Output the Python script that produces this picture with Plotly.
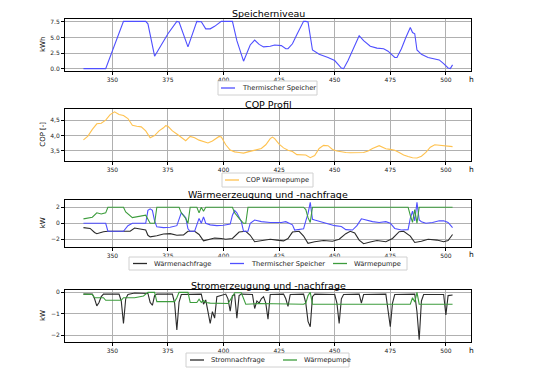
import plotly.graph_objects as go

# ---------------- data ----------------
speicher_h = [337, 347, 355, 365, 366, 369, 372, 375, 379, 380, 384, 388, 390, 392, 394, 396, 399, 404, 406, 409,
              412, 414, 416, 418, 421, 423, 426, 428, 429, 431, 433, 435, 436, 437, 438, 440, 443, 447, 450, 453,
              454, 456, 458, 461, 463, 466, 469, 472, 474, 476, 477, 478, 480, 482, 484, 485, 486, 487, 489, 492,
              495, 497, 499, 501, 502, 503]
speicher_kwh = [0.0, 0.0, 7.6, 7.6, 7.2, 2.0, 3.8, 5.6, 7.6, 7.5, 3.5, 7.6, 7.55, 6.4, 6.4, 6.8, 7.6, 7.6, 4.5, 1.2,
                3.8, 4.6, 3.9, 3.5, 3.6, 3.8, 3.7, 3.2, 3.2, 4.0, 5.5, 6.9, 7.6, 7.6, 7.5, 3.0, 2.3, 1.8, 1.3, 0.1,
                0.0, 1.3, 2.8, 5.3, 4.5, 3.6, 3.3, 3.2, 2.8, 2.1, 1.8, 1.8, 3.2, 5.0, 6.6, 5.8, 5.6, 3.0, 2.3, 1.8,
                1.6, 1.4, 0.8, 0.1, 0.0, 0.6]

cop_h = [337, 339, 341, 343, 345, 347, 349, 351, 353, 355, 357, 358, 359, 361, 363, 365, 367, 369, 371, 373,
         374, 375, 377, 379, 381, 383, 385, 387, 389, 391, 393, 395, 397, 398, 399, 401, 403, 405, 407, 409,
         411, 413, 415, 417, 419, 421, 422, 423, 425, 427, 429, 431, 433, 435, 437, 439, 441, 443, 445, 447,
         449, 451, 453, 455, 457, 460, 463, 465, 467, 470, 472, 473, 475, 477, 479, 481, 483, 485, 487, 489,
         491, 493, 495, 497, 499, 501, 503]
cop_vals = [3.86, 3.98, 4.2, 4.38, 4.4, 4.5, 4.68, 4.77, 4.68, 4.65, 4.55, 4.45, 4.33, 4.3, 4.28, 4.15, 3.93, 4.0,
            4.15, 4.25, 4.32, 4.3, 4.15, 4.05, 3.95, 3.83, 3.97, 3.93, 3.85, 3.8, 3.76, 3.82, 3.93, 3.97, 3.95,
            3.7, 3.53, 3.47, 3.45, 3.43, 3.47, 3.5, 3.55, 3.58, 3.7, 3.9, 3.95, 3.9, 3.72, 3.6, 3.52, 3.48, 3.38,
            3.38, 3.37, 3.28, 3.35, 3.58, 3.68, 3.67, 3.55, 3.5, 3.47, 3.45, 3.44, 3.45, 3.45, 3.5, 3.58, 3.67,
            3.62, 3.57, 3.55, 3.52, 3.45, 3.37, 3.32, 3.28, 3.27, 3.33, 3.45, 3.62, 3.7, 3.68, 3.66, 3.66, 3.64]

wn_h = [337, 340, 342, 343, 346, 348, 352, 356, 358, 360, 362, 365, 366, 367, 370, 373, 376, 379, 382, 384,
        387, 389, 391, 393, 396, 399, 401, 404, 405, 407, 410, 412, 414, 417, 421, 424, 427, 429, 431, 434,
        436, 438, 441, 445, 449, 452, 455, 457, 459, 461, 463, 466, 469, 473, 476, 479, 481, 484, 486, 489,
        492, 496, 499, 501, 503]
waermenachfrage = [-0.55, -0.65, -1.15, -1.3, -1.05, -1.0, -1.0, -1.05, -1.0, -0.6, -0.7, -0.85, -1.5, -1.7,
                   -1.55, -1.35, -1.3, -1.5, -1.45, -1.0, -1.0, -1.4, -2.2, -2.05, -1.85, -1.9, -2.0, -1.9, -1.6,
                   -1.1, -1.0, -1.5, -2.3, -2.2, -2.0, -2.1, -2.2, -1.9, -1.1, -1.0, -1.6, -2.5, -2.3, -2.15,
                   -2.25, -2.0, -1.3, -1.0, -1.2, -2.1, -2.55, -2.35, -2.15, -2.3, -1.9, -1.05, -1.0, -1.6, -2.4,
                   -2.25, -2.0, -2.1, -2.3, -2.15, -1.4]

ts_h = [337, 347, 348, 355, 357, 359, 365, 366, 367, 368, 369, 370, 373, 376, 379, 380, 381, 382, 383, 384,
        385, 387, 388, 389, 390, 391, 392, 394, 397, 400, 403, 404, 405, 406, 408, 409, 411, 412, 414, 417,
        421, 426, 428, 431, 432, 436, 437, 438, 439, 440, 441, 444, 447, 450, 453, 455, 458, 460, 462, 464,
        467, 470, 473, 475, 477, 480, 483, 484, 485, 486, 487, 488, 489, 491, 494, 497, 499, 501, 503]
speicher_kw = [0.0, 0.0, -1.0, -1.0, -0.3, 0.0, 0.0, 1.6, 1.8, 1.6, 0.3, -0.45, -0.55, -0.5, -0.3, 0.6, 1.3,
               1.0, 0.7, -0.7, -1.0, -1.0, -0.2, 0.6, 0.0, 0.8, 0.0, -0.2, -0.3, -0.25, -0.1, 1.0, 1.6, 1.3, 0.2,
               -1.0, -1.0, 0.0, 0.4, 0.2, 0.1, 0.1, 0.2, -0.2, -0.85, -0.7, 0.3, 1.2, 2.6, 0.5, 0.4, 0.15, -0.1,
               -0.3, -0.4, -0.8, -0.85, -0.3, 0.55, 0.4, 0.2, 0.1, 0.2, 0.0, -0.65, -0.85, -0.8, 0.6, 1.5, 0.3,
               2.6, 0.4, 0.2, 0.0, 0.1, 0.3, 0.3, 0.1, -0.55]

wp_h = [337, 340, 341, 343, 345, 347, 348, 355, 356, 359, 362, 365, 366, 367, 369, 370, 380, 381, 383, 384,
        385, 388, 389, 390, 391, 392, 404, 405, 407, 408, 409, 410, 411, 436, 437, 438, 439, 440, 483, 484,
        485, 486, 487, 488, 503]
waermepumpe_kw = [0.55, 0.65, 0.75, 1.3, 1.15, 1.3, 2.0, 2.0, 1.4, 0.7, 0.85, 1.0, 0.5, 0.0, 0.0, 2.0, 2.0, 1.3,
                  0.6, 0.0, 2.0, 2.0, 1.3, 2.0, 1.5, 2.0, 2.0, 1.3, 0.6, 0.3, 0.0, 0.0, 2.0, 2.0, 1.7, 0.7, 0.1,
                  2.0, 2.0, 1.0, 0.1, 1.7, 0.0, 2.0, 2.0]

sn_h = [337, 341, 342, 343, 344, 345, 346, 353, 354, 355, 356, 357, 360, 366, 367, 368, 369, 370, 377, 378,
        379, 380, 381, 390, 391, 392, 393, 394, 395, 396, 397, 401, 402, 403, 404, 405, 406, 407, 408, 413,
        414, 415, 416, 417, 418, 419, 420, 421, 427, 428, 429, 430, 436, 437, 438, 439, 440, 441, 450, 451,
        452, 453, 454, 461, 462, 463, 473, 474, 475, 476, 477, 486, 487, 488, 489, 490, 499, 500, 501, 503]
stromnachfrage = [-0.08, -0.08, -0.3, -0.63, -0.47, -0.2, -0.08, -0.08, -0.4, -1.45, -0.3, -0.1, -0.03, -0.05,
                  -0.47, -0.6, -0.15, -0.08, -0.08, -0.5, -1.75, -0.45, -0.1, -0.08, -0.55, -0.35, -0.9, -1.45,
                  -0.9, -1.2, -0.2, -0.08, -0.3, -0.87, -0.15, -0.1, -1.2, -0.15, -0.08, -0.1, -0.75, -0.4, -0.5,
                  -0.3, -0.2, -0.5, -1.25, -0.1, -0.08, -0.3, -0.65, -0.1, -0.08, -0.5, -1.35, -1.6, -0.2, -0.08,
                  -0.1, -0.5, -1.45, -0.3, -0.1, -0.08, -0.5, -0.1, -0.08, -0.8, -1.6, -0.5, -0.1, -0.08, -0.9,
                  -2.2, -0.4, -0.1, -0.1, -1.05, -0.15, -0.12]

wpel_h = [337, 341, 342, 346, 347, 354, 355, 360, 364, 366, 369, 370, 378, 379, 380, 384, 385, 388, 389, 390,
          391, 392, 394, 400, 402, 404, 405, 408, 409, 410, 416, 436, 437, 438, 439, 440, 484, 485, 486, 487,
          488, 503]
waermepumpe_el = [-0.08, -0.1, -0.25, -0.25, -0.37, -0.37, -0.25, -0.25, -0.17, 0.0, 0.0, -0.43, -0.43, -0.25,
                  0.0, 0.0, -0.47, -0.47, -0.32, -0.47, -0.38, -0.47, -0.5, -0.5, -0.52, -0.2, -0.02, -0.02,
                  -0.3, -0.55, -0.52, -0.55, -0.5, -0.15, 0.0, -0.55, -0.55, -0.25, -0.45, 0.0, -0.55, -0.55]

x_ticks = [350, 375, 400, 425, 450, 475, 500]
titles = ["Speicherniveau", "COP Profil", "Wärmeerzeugung und -nachfrage", "Stromerzeugung und -nachfrage"]
ylabels = ["kWh", "COP [-]", "kW", "kW"]

# ---------------- styling ----------------
W, H = 549, 371
L, R = 65, 471
FONT = "DejaVu Sans"
BLUE = "#4f4fff"
ORANGE = "#ffc24f"
GREEN = "#3c9c3c"
BLACK = "#2b2b2b"


def py(px):
    return 1 - px / H


def px_(x):
    return (x - L) / (R - L)


fig = go.Figure()

def add(x, y, name, color, idx):
    fig.add_trace(go.Scatter(
        x=x, y=y, name=name, mode="lines", showlegend=False,
        line=dict(color=color, width=1.1),
        xaxis="x" if idx == 1 else f"x{idx}",
        yaxis="y" if idx == 1 else f"y{idx}",
    ))

series = [
    (speicher_h, speicher_kwh, "Thermischer Speicher", BLUE, 1),
    (cop_h, cop_vals, "COP Wärmepumpe", ORANGE, 2),
    (wn_h, waermenachfrage, "Wärmenachfrage", BLACK, 3),
    (ts_h, speicher_kw, "Thermischer Speicher", BLUE, 3),
    (wp_h, waermepumpe_kw, "Wärmepumpe", GREEN, 3),
    (sn_h, stromnachfrage, "Stromnachfrage", BLACK, 4),
    (wpel_h, waermepumpe_el, "Wärmepumpe", GREEN, 4),
]
for s in series:
    add(*s)

domains = [(19, 71), (109, 160.5), (200, 246.5), (290, 342)]
yranges = [[-0.38, 7.98], [3.19, 4.86], [-2.9, 2.9], [-2.31, 0.11]]
ytickvals = [[0, 2.5, 5, 7.5], [3.5, 4.0, 4.5], [-2, 0, 2], [-2, -1, 0]]
yticktext = [["0.0", "2.5", "5.0", "7.5"], ["3,5", "4,0", "4,5"], ["\u22122", "0", "2"], ["\u22122", "\u22121", "0"]]
title_y = [14, 104, 194, 285]
h_y = [79, 169, 254, 350]

# legend layout (pixel boxes) per panel: box x0, x1, y0, y1 and per entry line start
legend_boxes = [(218, 317, 81, 95), (222, 313, 173, 187), (129, 407, 257, 270), (186, 349, 353, 367)]
legend_entry_x = [[221], [225], [133, 230, 333], [190, 283]]

layout = dict(
    width=W, height=H,
    margin=dict(l=L, r=W - R, t=0, b=0, autoexpand=False),
    paper_bgcolor="white", plot_bgcolor="white",
    font=dict(family=FONT, color="black"),
    showlegend=False,
    annotations=[], shapes=[],
)

axis_common = dict(
    showgrid=True, gridcolor="#b0b0b0", gridwidth=1,
    showline=True, mirror=True, linecolor="black", linewidth=1,
    ticks="outside", ticklen=3, tickwidth=1, tickcolor="black",
    tickfont=dict(size=6, family=FONT, color="#222"),
    zeroline=False, automargin=False,
)

for i in range(4):
    idx = i + 1
    xn = "xaxis" if idx == 1 else f"xaxis{idx}"
    yn = "yaxis" if idx == 1 else f"yaxis{idx}"
    ya = "y" if idx == 1 else f"y{idx}"
    xa = "x" if idx == 1 else f"x{idx}"
    top, bot = domains[i]
    layout[xn] = dict(axis_common, domain=[0, 1], range=[328.7, 511.3], tickvals=x_ticks, anchor=ya)
    layout[yn] = dict(axis_common, domain=[py(bot), py(top)], range=yranges[i],
                      tickvals=ytickvals[i], ticktext=yticktext[i], anchor=xa)
    layout["annotations"].append(dict(
        text=titles[i], x=0.5, y=py(title_y[i]), xref="paper", yref="paper",
        xanchor="center", yanchor="middle", showarrow=False,
        font=dict(size=9.5, family=FONT, color="black")))
    layout["annotations"].append(dict(
        text="h", x=1.0, y=py(h_y[i]), xref="paper", yref="paper",
        xanchor="center", yanchor="middle", showarrow=False,
        font=dict(size=7.5, family=FONT, color="black")))
    layout["annotations"].append(dict(
        text=ylabels[i], x=px_(43), y=py((top + bot) / 2), xref="paper", yref="paper",
        xanchor="center", yanchor="middle", showarrow=False, textangle=-90,
        font=dict(size=7, family=FONT, color="black")))

    # legend box
    bx0, bx1, by0, by1 = legend_boxes[i]
    layout["shapes"].append(dict(
        type="rect", xref="paper", yref="paper",
        x0=px_(bx0), x1=px_(bx1), y0=py(by1), y1=py(by0),
        line=dict(color="#d0d0d0", width=1), fillcolor="white", layer="above"))
    ymid = py((by0 + by1) / 2)
    entries = [s for s in series if s[4] == idx]
    for ex, s in zip(legend_entry_x[i], entries):
        layout["shapes"].append(dict(
            type="line", xref="paper", yref="paper",
            x0=px_(ex), x1=px_(ex + 14), y0=ymid, y1=ymid,
            line=dict(color=s[3], width=1.3), layer="above"))
        layout["annotations"].append(dict(
            text=s[2], x=px_(ex + 19), y=ymid, xref="paper", yref="paper",
            xanchor="left", yanchor="middle", showarrow=False,
            font=dict(size=6.7, family=FONT, color="#222")))

fig.update_layout(**layout)
fig.write_html(
    "out.html",
    config={"displayModeBar": False},
    post_script="document.body.style.margin='0';document.body.style.padding='0';"
                "document.documentElement.style.overflow='hidden';",
)
